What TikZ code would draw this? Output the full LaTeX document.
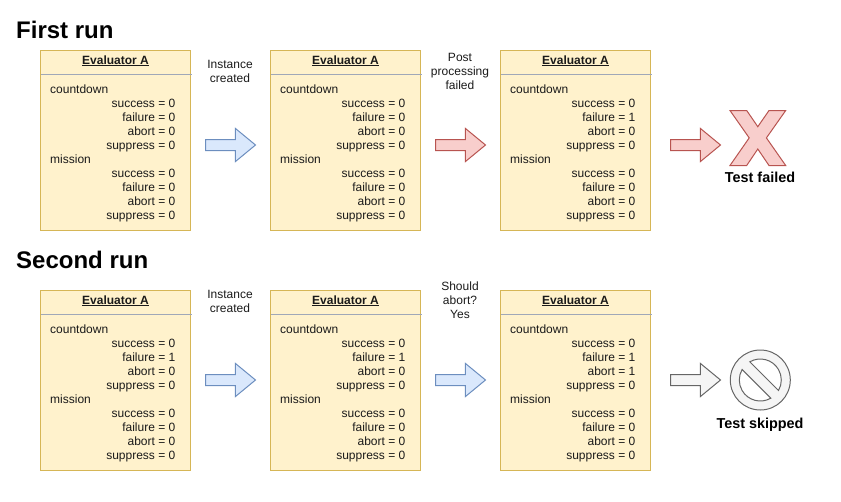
\documentclass[tikz,border=0pt]{standalone}
\usepackage{fontspec}
\setmainfont{Liberation Sans}
\usetikzlibrary{shapes.arrows,calc}
\definecolor{boxfill}{HTML}{FFF2CC}
\definecolor{boxline}{HTML}{D6B656}
\definecolor{sepline}{HTML}{A0A8B8}
\definecolor{bluefill}{HTML}{DAE8FC}
\definecolor{blueline}{HTML}{6C8EBF}
\definecolor{redfill}{HTML}{F8CECC}
\definecolor{redline}{HTML}{B85450}
\definecolor{greyfill}{HTML}{F5F5F5}
\definecolor{greyline}{HTML}{666666}
\definecolor{inktext}{HTML}{1A1A1A}
\tikzset{
  evalbox/.style={draw=boxline,fill=boxfill,line width=1pt,minimum width=150pt,minimum height=180pt,anchor=north west,inner sep=0pt,outer sep=0pt},
  sepstyle/.style={draw=sepline,line width=1pt},
  evaltitle/.style={anchor=base,font=\fontsize{12}{14}\selectfont\bfseries,inner sep=0pt,text=inktext},
  leftline/.style={anchor=base west,font=\fontsize{12}{14}\selectfont,inner sep=0pt,text=inktext},
  rightline/.style={anchor=base east,font=\fontsize{12}{14}\selectfont,inner sep=0pt,text=inktext},
  caption/.style={align=center,font=\fontsize{12}{14}\selectfont,inner sep=0pt,text=inktext},
  heading/.style={anchor=base west,font=\fontsize{24}{28}\selectfont\bfseries,inner sep=0pt,text=black},
  result/.style={anchor=base,font=\fontsize{14.4}{16}\selectfont\bfseries,inner sep=0pt,text=black},
  blockarrow/.style={shape=single arrow,anchor=tail,inner xsep=0pt,inner ysep=5pt,outer sep=0pt,minimum height=50pt,single arrow head extend=11pt,single arrow tip angle=79,line width=1pt},
  bluearrow/.style={blockarrow,draw=blueline,fill=bluefill},
  redarrow/.style={blockarrow,draw=redline,fill=redfill},
  greyarrow/.style={blockarrow,draw=greyline,fill=greyfill},
}
% name, x, y, then countdown and mission values (failure, abort for countdown)
\newcommand{\evalpanel}[5]{%
  \node[evalbox] (#1) at (#2,#3) {};
  \node[evaltitle] (#1t) at (#2+75,#3+13.5) {\underline{Evaluator A}};
  \coordinate (#1sl) at (#2,#3+24);
  \coordinate (#1sr) at (#2+151,#3+24);
  \draw[sepstyle] (#1sl) -- (#1sr);
  \node[leftline] (#1a) at (#2+9.5,#3+42.5) {countdown};
  \node[rightline] (#1b) at (#2+135,#3+56.5) {success = 0};
  \node[rightline] (#1c) at (#2+135,#3+70.5) {failure = #4};
  \node[rightline] (#1d) at (#2+135,#3+84.5) {abort = #5};
  \node[rightline] (#1e) at (#2+135,#3+98.5) {suppress = 0};
  \node[leftline] (#1f) at (#2+9.5,#3+112.5) {mission};
  \node[rightline] (#1g) at (#2+135,#3+126.5) {success = 0};
  \node[rightline] (#1h) at (#2+135,#3+140.5) {failure = 0};
  \node[rightline] (#1i) at (#2+135,#3+154.5) {abort = 0};
  \node[rightline] (#1j) at (#2+135,#3+168.5) {suppress = 0};
}
\begin{document}
\begin{tikzpicture}[x=1pt,y=-1pt]
\useasboundingbox (0,0) rectangle (841,501);

\node[heading] (h1) at (16,38.5) {First run};
\node[heading] (h2) at (16,268.5) {Second run};

\evalpanel{pa}{40.5}{50.5}{0}{0}
\evalpanel{pb}{270.5}{50.5}{0}{0}
\evalpanel{pc}{500.5}{50.5}{1}{0}
\evalpanel{qa}{40.5}{290.5}{1}{0}
\evalpanel{qb}{270.5}{290.5}{1}{0}
\evalpanel{qc}{500.5}{290.5}{1}{1}

\node[caption] (l1) at (230,71) {Instance\\created};
\node[caption] (l2) at (460,71) {Post\\processing\\failed};
\node[caption] (l3) at (230,301) {Instance\\created};
\node[caption] (l4) at (460,300) {Should\\abort?\\Yes};

\node[bluearrow] (a1) at (205.5,145) {};
\node[redarrow] (a2) at (435.5,145) {};
\node[redarrow] (a3) at (670.5,145) {};
\node[bluearrow] (a4) at (205.5,380) {};
\node[bluearrow] (a5) at (435.5,380) {};
\node[greyarrow] (a6) at (670.5,380) {};

% X mark
\draw[draw=redline,fill=redfill,line width=1pt,line join=miter]
  (730,110.5) -- (746.7,110.5) -- (757.8,126.7) -- (769,110.5) -- (785.7,110.5)
  -- (766.4,137.9) -- (785.7,165.5) -- (769,165.5) -- (757.8,149) -- (746.7,165.5)
  -- (730,165.5) -- (749.2,137.9) -- cycle;
\node[result] (r1) at (760,182.5) {Test failed};

% No symbol
\coordinate (nc) at (760.3,380);
\draw[draw=greyline,fill=greyfill,line width=1pt,even odd rule]
  (nc) circle[radius=30]
  ($(nc)+(-120:21)$) arc[start angle=-120,end angle=30,radius=21] -- cycle
  ($(nc)+(60:21)$) arc[start angle=60,end angle=210,radius=21] -- cycle;
\node[result] (r2) at (760,428) {Test skipped};
\end{tikzpicture}
\end{document}
